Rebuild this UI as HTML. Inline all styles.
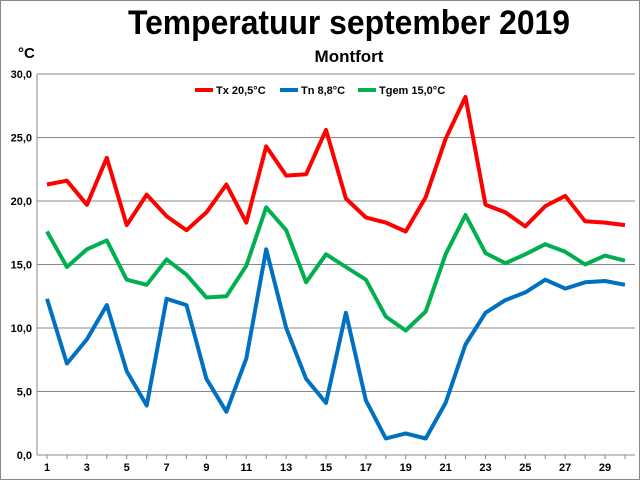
<!DOCTYPE html>
<html><head><meta charset="utf-8"><style>
body{margin:0;background:#fff}
svg{display:block;font-family:"Liberation Sans",sans-serif}
</style></head><body>
<svg id="s" width="640" height="480" xmlns="http://www.w3.org/2000/svg">
<rect x="0.5" y="0.5" width="639" height="479" fill="#fff" stroke="#888"/>
<text x="349" y="34" text-anchor="middle" font-size="34" font-weight="bold" textLength="442" lengthAdjust="spacingAndGlyphs">Temperatuur september 2019</text>
<text x="349" y="62" text-anchor="middle" font-size="17" font-weight="bold">Montfort</text>
<text x="18" y="58" font-size="15" font-weight="bold">°C</text>
<g id="grid"></g>
<g font-size="11" font-weight="bold">
<line x1="195" y1="90" x2="213" y2="90" stroke="#f00" stroke-width="4"/><text x="216" y="94">Tx 20,5°C</text>
<line x1="280" y1="90" x2="298" y2="90" stroke="#0070c0" stroke-width="4"/><text x="301" y="94">Tn 8,8°C</text>
<line x1="358" y1="90" x2="376" y2="90" stroke="#00b050" stroke-width="4"/><text x="379" y="94">Tgem 15,0°C</text>
</g>
<g id="lines"></g>
</svg>
<script>
var L=37,R=635,T=74,B=455;
var g=document.getElementById('grid'),h='';
for(var i=0;i<=6;i++){var y=B-i*(B-T)/6;h+='<line x1="'+L+'" y1="'+y+'" x2="'+R+'" y2="'+y+'" stroke="#888" stroke-width="1"/>';
h+='<text x="'+(L-5)+'" y="'+(y+4)+'" text-anchor="end" font-size="11" font-weight="bold">'+(i*5)+',0</text>';}
h+='<line x1="'+L+'" y1="'+T+'" x2="'+L+'" y2="'+B+'" stroke="#888"/>';
function X(d){return 47+(d-1)*19.93}
for(var d=1;d<=30;d++){h+='<line x1="'+X(d)+'" y1="'+B+'" x2="'+X(d)+'" y2="'+(B+4)+'" stroke="#888"/>';
if(d%2)h+='<text x="'+X(d)+'" y="'+(B+16)+'" text-anchor="middle" font-size="11" font-weight="bold">'+d+'</text>';}
g.innerHTML=h;
var tx=[21.3,21.6,19.7,23.4,18.1,20.5,18.8,17.7,19.1,21.3,18.3,24.3,22.0,22.1,25.6,20.2,18.7,18.3,17.6,20.3,24.9,28.2,19.7,19.1,18.0,19.6,20.4,18.4,18.3,18.1];
var tn=[12.3,7.2,9.1,11.8,6.6,3.9,12.3,11.8,6.0,3.4,7.6,16.2,10.0,6.0,4.1,11.2,4.3,1.3,1.7,1.3,4.1,8.7,11.2,12.2,12.8,13.8,13.1,13.6,13.7,13.4];
var tg=[17.6,14.8,16.2,16.9,13.8,13.4,15.4,14.2,12.4,12.5,14.9,19.5,17.7,13.6,15.8,14.8,13.8,10.9,9.8,11.3,15.8,18.9,15.9,15.1,15.8,16.6,16.0,15.0,15.7,15.3];
function pl(a,c){return '<polyline fill="none" stroke="'+c+'" stroke-width="4" stroke-linejoin="round" points="'+a.map(function(v,i){return X(i+1).toFixed(1)+','+(B-v*(B-T)/30).toFixed(1)}).join(' ')+'"/>'}
document.getElementById('lines').innerHTML=pl(tx,'#f00')+pl(tn,'#0070c0')+pl(tg,'#00b050');
</script>
</body></html>
